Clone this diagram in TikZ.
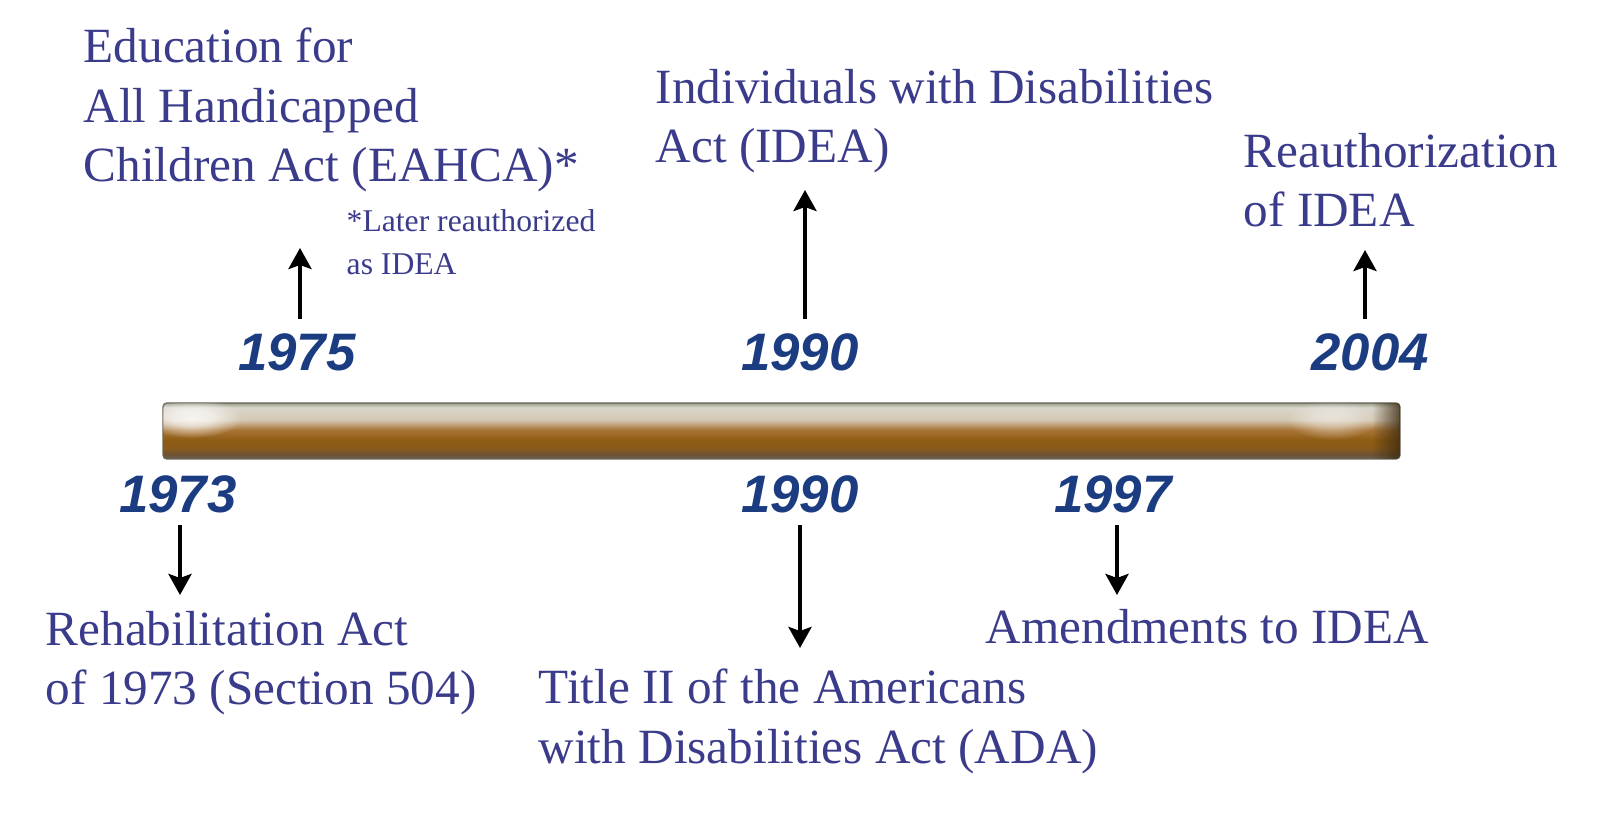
\documentclass[tikz,border=0pt]{standalone}
\usepackage{fontspec}
\setmainfont{Liberation Serif}
\newfontfamily\yearfont{Liberation Sans}
\usetikzlibrary{arrows.meta,fadings}
\definecolor{evtext}{HTML}{3B3B8C}
\definecolor{yeartext}{HTML}{1C3C82}
\definecolor{bardark}{HTML}{3A2A10}
\definecolor{barline}{HTML}{6A6456}
\definecolor{barA}{HTML}{6E5232}
\definecolor{barB}{HTML}{8A5A1A}
\definecolor{barC}{HTML}{8F5C14}
\definecolor{barD}{HTML}{A87436}
\definecolor{barE}{HTML}{D4C8B4}
\definecolor{barF}{HTML}{DAD6CC}
\definecolor{bartop}{HTML}{9A9A8A}
\pgfdeclareverticalshading{barshade}{100bp}{color(0bp)=(barline); color(25bp)=(barline);
    color(29bp)=(barA); color(35bp)=(barB); color(42bp)=(barC);
    color(51bp)=(barD); color(60bp)=(barE); color(71bp)=(barF);
    color(75bp)=(bartop); color(100bp)=(bartop)}
\pgfdeclarehorizontalshading{rightendshade}{100bp}{color(0bp)=(pgftransparent!100); color(25bp)=(pgftransparent!100);
    color(75bp)=(pgftransparent!0); color(100bp)=(pgftransparent!0)}
\pgfdeclarefading{rightend}{\pgfuseshading{rightendshade}}
\pgfdeclareradialshading{glowshade}{\pgfpoint{0cm}{0cm}}{color(0bp)=(pgftransparent!0); color(10bp)=(pgftransparent!20);
    color(25bp)=(pgftransparent!100); color(50bp)=(pgftransparent!100)}
\pgfdeclarefading{glow}{\pgfuseshading{glowshade}}
\def\Timebar{
    \shade[shading=barshade, draw=barline, rounded corners=0.04cm] (163,403) rectangle (1400,459);
    \begin{scope}
    \clip[rounded corners=0.04cm] (163,403) rectangle (1400,459);
    \fill[white, opacity=0.45, path fading=glow] (1332,420) ellipse (45 and 20);
    \fill[bardark, opacity=0.8, path fading=rightend] (1372,403) rectangle (1400,459);
    \fill[white, opacity=0.8, path fading=glow] (192,418) ellipse (50 and 20);
    \end{scope}
}
\begin{document}
\begin{tikzpicture}[x=0.01cm, y=-0.01cm,
    event/.style={anchor=base west, align=left, inner sep=0, text=evtext,
        font=\fontsize{14}{17}\selectfont},
    note/.style={event, font=\fontsize{9}{12.3}\selectfont},
    year/.style={inner sep=0, outer sep=0.13cm, text height=0.38cm, text depth=0cm, text=yeartext,
        font=\fontsize{15}{18}\selectfont\yearfont\bfseries\itshape},
    arr/.style={draw=black, line width=0.04cm, -{Stealth[length=0.21cm, width=0.23cm, inset=0.04cm]}}]

    \fill[white] (0,0) rectangle (1600,819);
    \useasboundingbox (0,0) rectangle (1600,819);

    \Timebar

    % years above and below the bar
    \foreach \yr/\px in {1975/297, 1990/800, 2004/1370}
    \node[year] (up\yr) at (\px,351) {\yr};
    \foreach \yr/\px in {1973/178, 1990/800, 1997/1113}
    \node[year] (dn\yr) at (\px,493) {\yr};

    % base = last line of each text
    \node[event] (eahca) at (83,182) {Education for\\All Handicapped\\Children Act (EAHCA)*};
    \node[note] (later) at (346,275) {*Later reauthorized\\as IDEA};
    \node[event] (idea) at (655,163) {Individuals with Disabilities\\Act (IDEA)};
    \node[event] (reauth) at (1243,227) {Reauthorization\\of IDEA};
    \node[event] (rehab) at (45,705) {Rehabilitation Act\\of 1973 (Section 504)};
    \node[event] (ada) at (538,763) {Title II of the Americans\\with Disabilities Act (ADA)};
    \node[event] (amend) at (985,643) {Amendments to IDEA};

    \foreach \yr/\ax/\tip in {1975/300/248, 1990/805/190, 2004/1365/250} {
    \coordinate (tu\yr) at (\ax,\tip);
    \draw[arr] (tu\yr |- up\yr.north) -- (tu\yr);
    }
    \foreach \yr/\ax/\tip in {1973/180/595, 1990/800/648, 1997/1117/595} {
    \coordinate (td\yr) at (\ax,\tip);
    \draw[arr] (td\yr |- dn\yr.south) -- (td\yr);
    }

\end{tikzpicture}
\end{document}
